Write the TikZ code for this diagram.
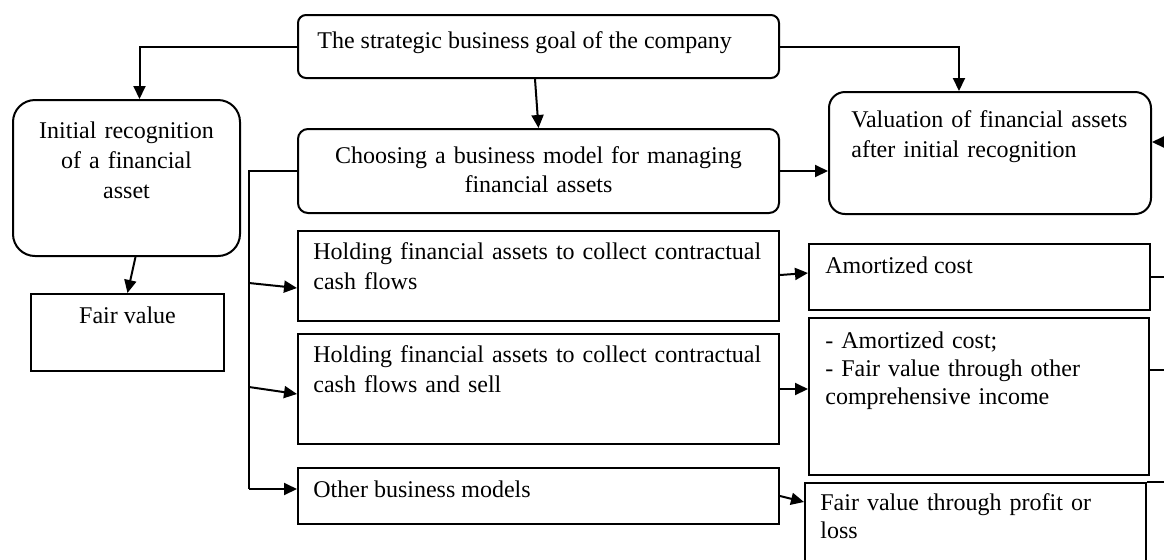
\documentclass[tikz,border=0pt]{standalone}
\usepackage{fontspec}
\setmainfont{Liberation Serif}
\usetikzlibrary{arrows.meta}
\tikzset{
	box/.style={draw, line width=1pt, anchor=north west, inner sep=0pt},
	rbox/.style={box, rounded corners=#1},
	txt/.style={inner sep=0pt, font=\fontsize{12}{15}\selectfont},
	arr/.style={line width=1pt, -{Triangle[length=6.5pt,width=6pt]}},
	wire/.style={line width=1pt},
}

\begin{document}
\begin{tikzpicture}[x=0.5pt, y=-0.5pt]
			%%%%% START %%%%%
			\useasboundingbox (0,0) rectangle (1164,559);
			\clip (0,0) rectangle (1164,559);
			
			% boxes
			\node[rbox=4pt, minimum width=240.5pt, minimum height=31.5pt] (goal) at (297,14) {};
			\node[rbox=11pt, minimum width=113.5pt, minimum height=78pt] (init) at (12,99) {};
			\node[box, minimum width=96.5pt, minimum height=38.5pt] (fair) at (30,293) {};
			\node[rbox=5pt, minimum width=240.5pt, minimum height=42pt] (choose) at (297,128) {};
			\node[rbox=8pt, minimum width=161pt, minimum height=61pt] (valu) at (828,91) {};
			\node[box, minimum width=240.5pt, minimum height=45pt] (hold1) at (297,230) {};
			\node[box, minimum width=240.5pt, minimum height=55pt] (hold2) at (297,333) {};
			\node[box, minimum width=240.5pt, minimum height=28pt] (other) at (297,467) {};
			\node[box, minimum width=170.5pt, minimum height=33pt] (amort) at (808,243) {};
			\node[box, minimum width=170pt, minimum height=78.5pt] (oci) at (808,317) {};
			\node[box, minimum width=170.5pt, minimum height=50pt] (fvpl) at (804,482) {};
			
			% texts
			\node[txt, anchor=base west] (t-goal) at ([shift={(10pt,-17pt)}]goal.north west) {The strategic business goal of the company};
			\node[txt, anchor=base, text width=110pt, align=center] (t-init) at ([yshift=-19.5pt]init.north) {Initial recognition\\ of a financial\\ asset};
			\node[txt, anchor=base] (t-fair) at ([yshift=-15pt]fair.north) {Fair value};
			\node[txt, anchor=base, text width=230pt, align=center, font=\fontsize{12}{14.5}\selectfont] (t-choose) at ([yshift=-17.5pt]choose.north) {Choosing a business model for managing\\ financial assets};
			\node[txt, anchor=base west, text width=150pt, align=left] (t-valu) at ([shift={(11.5pt,-18pt)}]valu.north west) {Valuation of financial assets\\ after initial recognition};
			\node[txt, anchor=base west, text width=230pt, align=left] (t-hold1) at ([shift={(8pt,-14.5pt)}]hold1.north west) {Holding financial assets to collect contractual\\ cash flows};
			\node[txt, anchor=base west, text width=230pt, align=left] (t-hold2) at ([shift={(8pt,-14.5pt)}]hold2.north west) {Holding financial assets to collect contractual\\ cash flows and sell};
			\node[txt, anchor=base west] (t-other) at ([shift={(8pt,-15pt)}]other.north west) {Other business models};
			\node[txt, anchor=base west] (t-amort) at ([shift={(8.5pt,-15pt)}]amort.north west) {Amortized cost};
			\node[txt, anchor=base west, text width=160pt, align=left, font=\fontsize{12}{14}\selectfont] (t-oci) at ([shift={(8.5pt,-15.5pt)}]oci.north west) {- Amortized cost;\\ - Fair value through other\\ comprehensive income};
			\node[txt, anchor=base west, text width=160pt, align=left, font=\fontsize{12}{14}\selectfont] (t-fvpl) at ([shift={(8pt,-14pt)}]fvpl.north west) {Fair value through profit or\\ loss};
			
			% connectors
			\draw[arr] (goal.west) -| ([xshift=6.5pt]init.north);
			\draw[arr] ([xshift=-1.75pt]goal.south) -- (choose.north);
			\draw[arr] (goal.east) -| ([xshift=-15.5pt]valu.north);
			\draw[arr] ([xshift=4.5pt]init.south) -- (fair.north);
			\draw[arr] (choose.east) -- (choose.east -| valu.west);
			
			\coordinate (b1) at (249,283);
			\coordinate (b2) at (249,387);
			\coordinate (bus-end) at (249,489);
			\draw[wire] (choose.west) -| (bus-end);
			\draw[arr] (b1) -- ([yshift=-6pt]hold1.west);
			\draw[arr] (b2) -- ([yshift=-2.5pt]hold2.west);
			\draw[arr] (bus-end) -- (bus-end -| other.west);
			
			\draw[arr] ([yshift=0.5pt]hold1.east) -- ([yshift=2pt]amort.west);
			\draw[arr] (hold2.east) -- (hold2.east -| oci.west);
			\draw[arr] (other.east) -- ([yshift=-10pt]fvpl.north west);
			
			% lines running off to the right
			\coordinate (fb-in) at (1180,142);
			\draw[arr] (fb-in) -- (valu.east |- fb-in);
			\draw[wire] (amort.east) -- ++(20pt,0pt);
			\draw[wire] ([yshift=13.5pt]oci.east) -- ++(20pt,0pt);
			\draw[wire] (fvpl.north east) -- ++(20pt,0pt);
			
			%%%%% END %%%%%
\end{tikzpicture}
\end{document}
